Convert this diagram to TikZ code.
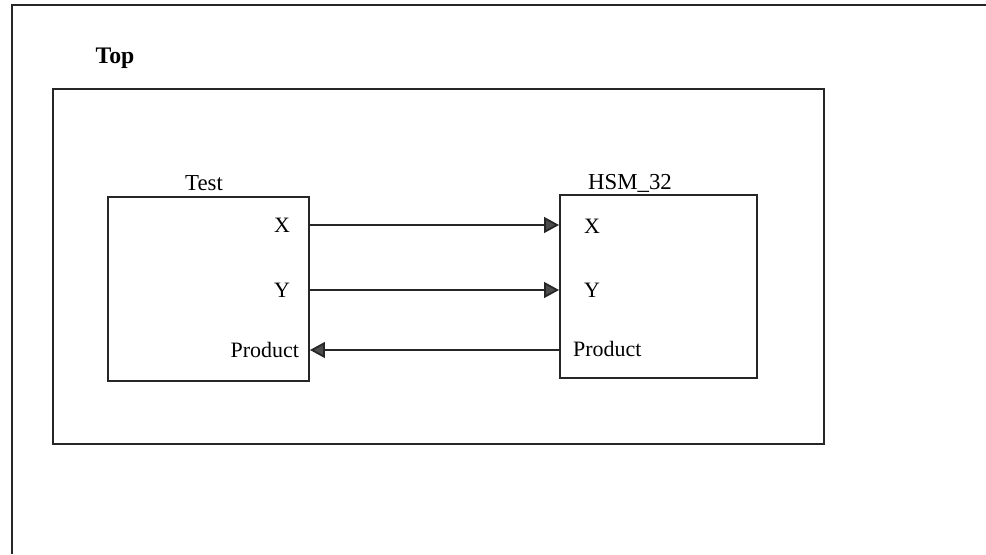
\documentclass[tikz,border=0pt]{standalone}
\usepackage{fontspec}
\setmainfont{Liberation Serif}
\usepackage{tikz}
\usetikzlibrary{positioning, arrows.meta}

\tikzset{
  blockbox/.style={draw=black!85, line width=1.1pt, minimum width=201*0.02cm, minimum height=184*0.02cm, inner sep=0pt},
  portlbl/.style={font=\fontsize{12.5}{14}\selectfont, inner sep=1pt},
  sig/.style={-{Triangle[length=8.5pt, width=9pt, fill=black!70]}, line width=1pt, black!85}
}

\begin{document}
\begin{tikzpicture}[x=0.02cm, y=-0.02cm]
  \useasboundingbox (0,0) rectangle (986,554);

  % ── outer frame ──
  \draw[black!85, line width=1.3pt] (12,554) -- (12,5) -- (986,5);
  \node[font=\fontsize{13.5}{15}\selectfont\bfseries] (toplbl) at (115,58) {Top};

  % ── Top block ──
  \draw[black!85, line width=1.3pt] (53,89) rectangle (824,444);

  % ── Test and HSM_32 blocks ──
  \node[blockbox] (test) at (208.5,289) {};
  \node[blockbox, minimum width=197*0.02cm, minimum height=183*0.02cm] (hsm) at (658.5,286.5) {};
  \node[portlbl, font=\fontsize{13}{15}\selectfont] (testname) at (204,183) {Test};
  \node[portlbl, font=\fontsize{13}{15}\selectfont] (hsmname) at (630,183) {HSM\_32};

  % ── port labels ──
  \node[portlbl, anchor=east] (tx) at (292,225) {X};
  \node[portlbl, anchor=east] (ty) at (292,290) {Y};
  \node[portlbl, anchor=east] (tp) at (301,350) {Product};
  \node[portlbl, anchor=west] (hx) at (582,226) {X};
  \node[portlbl, anchor=west] (hy) at (582,290) {Y};
  \node[portlbl, anchor=west] (hp) at (571,349) {Product};

  % ── signals ──
  \draw[sig] (test.east |- tx) -- (hsm.west |- tx);
  \draw[sig] (test.east |- ty) -- (hsm.west |- ty);
  \draw[sig] (hsm.west |- tp) -- (test.east |- tp);
\end{tikzpicture}
\end{document}
